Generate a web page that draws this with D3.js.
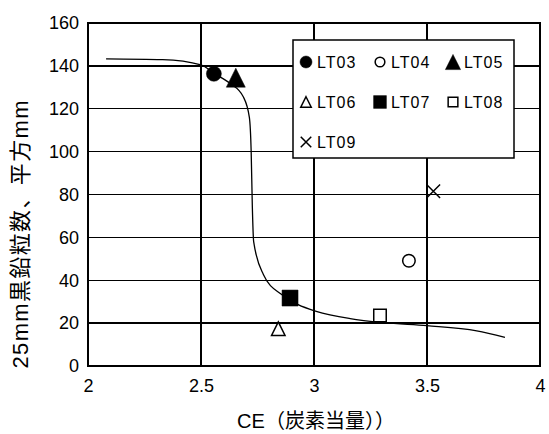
<!DOCTYPE html>
<html>
<head>
<meta charset="utf-8">
<script src="https://cdn.jsdelivr.net/npm/d3@7"></script>
<style>
	html, body { margin: 0; padding: 0; background: #fff; }
	svg { display: block; font-family: "Liberation Sans", Arial, "Noto Sans CJK JP", sans-serif; }
	.grid line { stroke: #000; stroke-width: 1.4; shape-rendering: crispEdges; }
	.tick-label { font-size: 18px; fill: #000; }
	.legend text { font-size: 16px; letter-spacing: 1px; fill: #000; }
</style>
</head>
<body>
<svg id="chart" width="549" height="434"></svg>
<script>
// --- data ---
const seriesNames = ['LT03', 'LT04', 'LT05', 'LT06', 'LT07', 'LT08', 'LT09'];
const ceValues    = [2.557, 3.420, 2.654, 2.842, 2.894, 3.292, 3.528];
const countValues = [136.3, 49.1, 134.5, 17.4, 31.7, 23.5, 81.5];

// hand-drawn trend curve (CE, count)
const trendCE    = [2.08, 2.33, 2.50, 2.557, 2.628, 2.687, 2.714, 2.722, 2.727, 2.733, 2.776, 2.857, 2.93, 3.01, 3.16, 3.31, 3.50, 3.72, 3.845];
const trendCount = [143.3, 142.9, 140.5, 136.5, 131.9, 125.6, 116, 100, 75, 58, 42.7, 33.3, 28.6, 25.5, 22.1, 20.2, 18.8, 16.4, 13.4];

const xTicks = [2, 2.5, 3, 3.5, 4];
const yTicks = [0, 20, 40, 60, 80, 100, 120, 140, 160];
const xTitle = 'CE（炭素当量））';
const yTitle = '25mm黒鉛粒数、平方mm';

// marker look per series: shape, filled, size in px
const markerStyle = {
	LT03: { shape: 'circle',   filled: true,  size: 15 },
	LT04: { shape: 'circle',   filled: false, size: 14 },
	LT05: { shape: 'triangle', filled: true,  size: 19 },
	LT06: { shape: 'triangle', filled: false, size: 15 },
	LT07: { shape: 'square',   filled: true,  size: 16 },
	LT08: { shape: 'square',   filled: false, size: 14 },
	LT09: { shape: 'cross',    filled: false, size: 15 }
};

const margin = { top: 23, left: 88, right: 9, bottom: 68 };
const width = 549 - margin.left - margin.right,
	height = 434 - margin.top - margin.bottom;

const svg = d3.select('#chart');
const g = svg.append('g').attr('transform', 'translate(' + margin.left + ',' + margin.top + ')');

const x = d3.scaleLinear().domain([2, 4]).range([0, width]);
const y = d3.scaleLinear().domain([0, 160]).range([height, 0]);

// marker path, centred on its bounding box like Excel does
function markerPath(shape, s) {
	const h = s / 2;
	if (shape === 'circle') {
		return 'M' + h + ',0A' + h + ',' + h + ' 0 1,1 ' + (-h) + ',0A' + h + ',' + h + ' 0 1,1 ' + h + ',0Z';
	}
	if (shape === 'triangle') {
		return 'M0,' + (-h) + 'L' + h + ',' + h + 'L' + (-h) + ',' + h + 'Z';
	}
	if (shape === 'square') {
		return 'M' + (-h) + ',' + (-h) + 'H' + h + 'V' + h + 'H' + (-h) + 'Z';
	}
	// cross
	return 'M' + (-h) + ',' + (-h) + 'L' + h + ',' + h + 'M' + h + ',' + (-h) + 'L' + (-h) + ',' + h;
}

function drawMarker(sel, name, scale) {
	const st = markerStyle[name];
	const s = st.size * (scale || 1);
	sel.append('path')
		.attr('d', markerPath(st.shape, st.filled ? s : s - 1.5))
		.attr('fill', st.filled ? '#000' : (st.shape === 'cross' ? 'none' : '#fff'))
		.attr('stroke', '#000')
		.attr('stroke-width', st.filled ? 0.5 : 1.5);
}

// grid lines
const grid = g.append('g').attr('class', 'grid');
grid.selectAll('.gy').data(yTicks).enter().append('line')
	.attr('x1', 0).attr('x2', width)
	.attr('y1', d => y(d)).attr('y2', d => y(d));
grid.selectAll('.gx').data(xTicks).enter().append('line')
	.attr('y1', 0).attr('y2', height)
	.attr('x1', d => x(d)).attr('x2', d => x(d));

// plot frame
g.append('rect')
	.attr('width', width).attr('height', height)
	.attr('fill', 'none').attr('stroke', '#000').attr('stroke-width', 2);

// axes (labels only, lines come from grid + frame)
const yAxis = d3.axisLeft(y).tickValues(yTicks).tickSize(0).tickPadding(9);
const xAxis = d3.axisBottom(x).tickValues(xTicks).tickSize(0).tickPadding(13)
	.tickFormat(d3.format('~g'));

g.append('g').call(yAxis)
	.call(a => a.select('.domain').remove())
	.selectAll('text').attr('class', 'tick-label').attr('font-family', null).attr('font-size', null);
g.append('g').attr('transform', 'translate(0,' + height + ')').call(xAxis)
	.call(a => a.select('.domain').remove())
	.selectAll('text').attr('class', 'tick-label').attr('font-family', null).attr('font-size', null);

// titles
svg.append('text')
	.attr('x', margin.left + width / 2 + 2)
	.attr('y', 428)
	.attr('text-anchor', 'middle')
	.style('font-size', '20px')
	.text(xTitle);

svg.append('text')
	.attr('transform', 'translate(28,' + (margin.top + height / 2 + 40) + ') rotate(-90)')
	.attr('text-anchor', 'middle')
	.attr('textLength', 268)
	.attr('lengthAdjust', 'spacing')
	.style('font-size', '22px')
	.text(yTitle);

// trend curve
const trend = trendCE.map((c, i) => [c, trendCount[i]]);
g.append('path')
	.datum(trend)
	.attr('fill', 'none')
	.attr('stroke', '#000')
	.attr('stroke-width', 1.3)
	.attr('d', d3.line().x(d => x(d[0])).y(d => y(d[1])).curve(d3.curveMonotoneX));

// points
seriesNames.forEach((name, i) => {
	const p = g.append('g')
		.attr('transform', 'translate(' + x(ceValues[i]) + ',' + y(countValues[i]) + ')');
	drawMarker(p, name);
});

// legend
const legend = svg.append('g').attr('class', 'legend');
legend.append('rect')
	.attr('x', 293).attr('y', 40).attr('width', 221).attr('height', 118)
	.attr('fill', '#fff').attr('stroke', '#000').attr('stroke-width', 1.5);

const colX = [306, 380, 453],
	rowY = [62, 102, 142];
seriesNames.forEach((name, i) => {
	const cx = colX[i % 3], cy = rowY[Math.floor(i / 3)];
	const item = legend.append('g').attr('transform', 'translate(' + cx + ',' + cy + ')');
	drawMarker(item, name, 0.8);
	item.append('text')
		.attr('x', 11)
		.attr('y', 6)
		.text(name);
});
</script>
</body>
</html>
